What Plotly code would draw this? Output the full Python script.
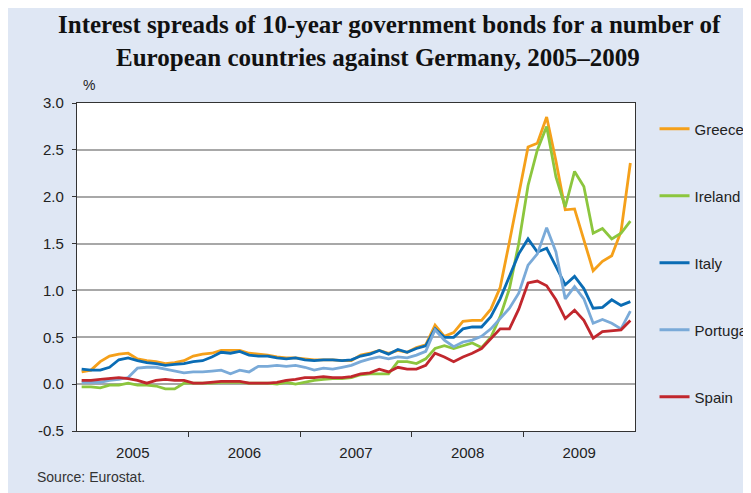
import plotly.graph_objects as go

years = ["2005", "2006", "2007", "2008", "2009"]
months = list(range(60))

greece = [0.13, 0.15, 0.24, 0.30, 0.32, 0.33, 0.27, 0.25, 0.24, 0.22, 0.23, 0.25,
          0.30, 0.32, 0.33, 0.36, 0.36, 0.36, 0.33, 0.32, 0.31, 0.29, 0.28, 0.28,
          0.27, 0.26, 0.26, 0.26, 0.25, 0.25, 0.31, 0.33, 0.36, 0.33, 0.36, 0.34,
          0.39, 0.42, 0.63, 0.51, 0.55, 0.67, 0.68, 0.68, 0.80, 1.03, 1.52, 2.02,
          2.53, 2.57, 2.85, 2.38, 1.86, 1.87, 1.54, 1.21, 1.31, 1.37, 1.63, 2.36]
ireland = [-0.03, -0.03, -0.04, -0.01, -0.01, 0.01, -0.01, -0.01, -0.02, -0.05, -0.05, 0.01,
           0.01, 0.01, 0.01, 0.02, 0.02, 0.02, 0.01, 0.01, 0.01, 0.00, 0.02, 0.00,
           0.02, 0.04, 0.05, 0.06, 0.06, 0.07, 0.10, 0.11, 0.11, 0.11, 0.24, 0.24,
           0.22, 0.27, 0.38, 0.41, 0.38, 0.41, 0.44, 0.39, 0.50, 0.72, 1.02, 1.50,
           2.12, 2.50, 2.75, 2.21, 1.89, 2.27, 2.11, 1.61, 1.66, 1.55, 1.61, 1.74]
italy = [0.16, 0.15, 0.15, 0.18, 0.26, 0.28, 0.25, 0.23, 0.22, 0.20, 0.21, 0.22,
         0.24, 0.25, 0.29, 0.34, 0.33, 0.35, 0.31, 0.30, 0.30, 0.28, 0.27, 0.28,
         0.26, 0.25, 0.26, 0.26, 0.25, 0.26, 0.30, 0.32, 0.36, 0.32, 0.37, 0.34,
         0.38, 0.41, 0.59, 0.50, 0.50, 0.59, 0.61, 0.61, 0.72, 0.91, 1.15, 1.39,
         1.55, 1.41, 1.45, 1.25, 1.06, 1.15, 1.02, 0.81, 0.82, 0.90, 0.84, 0.88]
portugal = [0.02, 0.02, 0.02, 0.04, 0.05, 0.07, 0.17, 0.18, 0.18, 0.16, 0.14, 0.12,
            0.13, 0.13, 0.14, 0.15, 0.11, 0.15, 0.13, 0.19, 0.19, 0.20, 0.19, 0.20,
            0.18, 0.15, 0.17, 0.16, 0.18, 0.20, 0.24, 0.27, 0.29, 0.27, 0.29, 0.28,
            0.31, 0.35, 0.58, 0.47, 0.40, 0.45, 0.47, 0.51, 0.59, 0.70, 0.81, 0.97,
            1.27, 1.39, 1.67, 1.41, 0.91, 1.04, 0.91, 0.65, 0.69, 0.65, 0.59, 0.78]
spain = [0.04, 0.04, 0.05, 0.06, 0.07, 0.06, 0.04, 0.01, 0.04, 0.05, 0.04, 0.04,
         0.01, 0.01, 0.02, 0.03, 0.03, 0.03, 0.01, 0.01, 0.01, 0.02, 0.04, 0.05,
         0.07, 0.07, 0.08, 0.07, 0.07, 0.08, 0.11, 0.12, 0.16, 0.13, 0.18, 0.16,
         0.16, 0.20, 0.33, 0.29, 0.24, 0.29, 0.33, 0.38, 0.49, 0.59, 0.59, 0.80,
         1.08, 1.10, 1.05, 0.90, 0.70, 0.79, 0.68, 0.49, 0.56, 0.57, 0.58, 0.68]

series = [("Greece", greece, "#f5a01a"),
          ("Ireland", ireland, "#8cc63e"),
          ("Italy", italy, "#0a6cb4"),
          ("Portugal", portugal, "#7aaad8"),
          ("Spain", spain, "#c1272d")]

y_ticks = [-0.5, 0.0, 0.5, 1.0, 1.5, 2.0, 2.5, 3.0]
y_labels = ["-0.5", "0.0", "0.5", "1.0", "1.5", "2.0", "2.5", "3.0"]

title_lines = ["Interest spreads of 10-year government bonds for a number of",
               "European countries against Germany, 2005\u20132009"]

BG = "#dfe7f4"
fig = go.Figure()
for name, vals, col in series:
    fig.add_trace(go.Scatter(x=months, y=vals, mode="lines", name=name,
                             legendgroup=name,
                             line=dict(color=col, width=2.8)))

fig.update_layout(
    width=751, height=493,
    paper_bgcolor=BG, plot_bgcolor="white",
    margin=dict(l=69, r=124, t=95, b=70, autoexpand=False),
    font=dict(family="Liberation Sans, Arial, sans-serif", size=15, color="#222"),
    showlegend=True,
    legend=dict(x=1.035, xanchor="left", y=0.971, yanchor="top",
                bgcolor="rgba(0,0,0,0)", tracegroupgap=44.5,
                font=dict(size=15, color="#222"), itemwidth=30),
    xaxis=dict(range=[-0.5, 59.5], tickmode="array",
               tickvals=[5.5 + 12 * k for k in range(5)], ticktext=years,
               ticks="", showgrid=False, zeroline=False, ticklabelstandoff=8,
               showline=True, linecolor="#333", linewidth=1.2, mirror=True,
               tickfont=dict(size=15, color="#222"),
               minor=dict(tickmode="array", tickvals=[11.5, 23.5, 35.5, 47.5],
                          ticks="outside", ticklen=5, tickcolor="#333", tickwidth=1, showgrid=False)),
    yaxis=dict(range=[-0.5, 3.0], tickmode="array", tickvals=y_ticks, ticktext=y_labels,
               ticks="outside", ticklen=4, tickcolor="#333", ticklabelstandoff=5,
               showgrid=True, gridcolor="#a8a8a8", gridwidth=1.5,
               zeroline=True, zerolinecolor="#a8a8a8", zerolinewidth=1.5,
               showline=True, linecolor="#333", linewidth=1.2, mirror=True,
               tickfont=dict(size=15, color="#222")),
)

for line_text, xpos, ypos in zip(title_lines, [0.560, 0.540], [1.238, 1.139]):
    fig.add_annotation(text="<b>" + line_text + "</b>",
                       xref="paper", yref="paper", x=xpos, y=ypos,
                       xanchor="center", yanchor="middle", showarrow=False,
                       font=dict(family="Liberation Serif, Times New Roman, serif", size=25, color="#111"))
fig.add_annotation(text="%", xref="paper", yref="paper", x=0.0215, y=1.055,
                   xanchor="center", yanchor="middle", showarrow=False,
                   font=dict(size=14, color="#222"))
fig.add_annotation(text="Source: Eurostat.", xref="paper", yref="paper", x=-0.0753, y=-0.140,
                   xanchor="left", yanchor="middle", showarrow=False,
                   font=dict(size=14, color="#333"))

fig.write_html("out.html")
